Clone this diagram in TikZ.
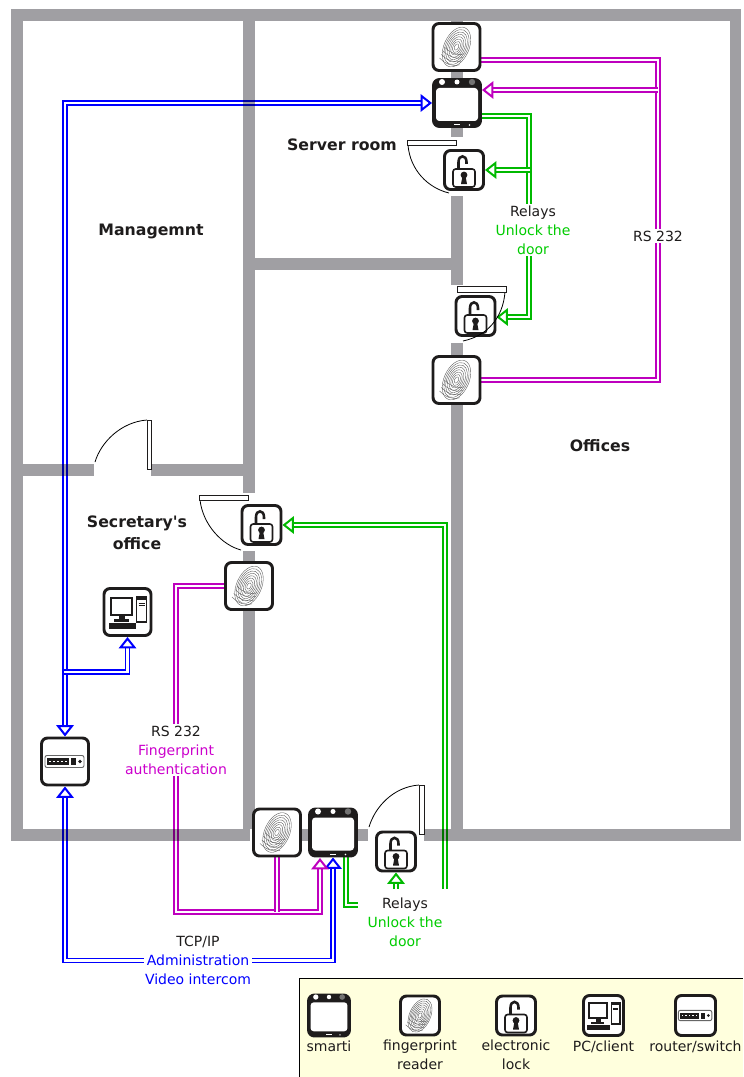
\documentclass[tikz,border=0pt]{standalone}
\usepackage{fontspec}
\setmainfont[Ligatures=TeXOff]{DejaVu Sans}
\definecolor{WallGray}{RGB}{160,159,163}
\definecolor{IconDark}{RGB}{30,28,28}
\definecolor{NetBlue}{RGB}{0,0,255}
\definecolor{RsPurple}{RGB}{190,0,190}
\definecolor{RelayGreen}{RGB}{0,185,0}
\definecolor{RsText}{RGB}{204,0,204}
\definecolor{RelayText}{RGB}{0,204,0}
\definecolor{LegendFill}{RGB}{255,255,221}
\usetikzlibrary{calc, positioning, arrows.meta}
\pgfdeclarelayer{under}
\pgfsetlayers{under,main}
\tikzset{
    opentri/.tip={Triangle[length=8.5pt, width=13pt, line width=1.5pt, fill=white]},
    devbox/.style={
        draw=IconDark, line width=2.2pt, rounded corners=4.5pt, fill=white,
        minimum size={(#1-3)*0.75pt}, inner sep=0pt
    },
    smartibox/.style={devbox=#1, fill=IconDark},
    wire/.style={
        draw=#1, double=white, double distance=1.6pt, line width=1.3pt
    },
    wall/.style={fill=WallGray},
    door/.style={draw=black, line width=0.6pt},
    doorleaf/.style={draw=IconDark, fill=white, line width=0.7pt},
    plain/.style={font=\fontsize{10.5}{14.25}\selectfont, align=center, inner sep=1pt, text=IconDark},
    wirelabel/.style={plain, fill=white},
    room/.style={plain, font=\fontsize{11.8}{16.5}\selectfont\bfseries},
    ridge/.style={draw=black!65, line width=0.28pt},
    pics/smartiicon/.style={code={
        \fill[white, rounded corners=2.5pt] (-21,-15) rectangle (21,18);
        \fill[white] (-15,-21) circle (3);
        \fill[white] (0,-21) circle (2.5);
        \fill[black!55] (15,-21) circle (3.2);
        \fill[white] (-3,21.5) rectangle (3,22.5);
        \fill[white] (12.5,22) circle (0.8);
    }},
    pics/fpicon/.style={code={
        \begin{scope}[rotate=-24]
            \foreach \r in {1,0.88,0.76,0.64,0.52,0.40,0.28,0.16}
                \draw[ridge] (0,0) ellipse ({12.5*\r} and {21*\r});
            \foreach \r in {5,9,13,17}
                \draw[ridge] (-11,\r) .. controls (-4,{\r+3}) and (4,{\r+3}) .. (10,{\r-2});
        \end{scope}
    }},
    pics/lockicon/.style={code={
        \draw[IconDark, line width=1.9pt] (-5.5,0) -- (-5.5,-8) .. controls (-5.5,-15.5) and (2.5,-15.5) .. (2.5,-8) -- (2.5,-6);
        \draw[IconDark, fill=white, line width=1.2pt, rounded corners=2pt] (-11,-1) rectangle (11,17);
        \fill[IconDark] (0,5) circle (3.4);
        \fill[IconDark] (-1.5,6) -- (1.5,6) -- (3,14) -- (-3,14) -- cycle;
    }},
    pics/pcicon/.style={code={
        \draw[IconDark, line width=1.5pt] (-17,-14) rectangle (4,3);
        \fill[IconDark] (-9,3) rectangle (-3,7);
        \fill[IconDark] (-14,7) rectangle (1,10);
        \fill[IconDark] (-19,11) rectangle (8,17);
        \draw[IconDark, line width=1.1pt] (9,-15) rectangle (19,10);
        \fill[IconDark] (9,-15) rectangle (19,-12);
        \draw[IconDark, line width=0.4pt] (11,-9) -- (17,-9) (11,-7) -- (17,-7);
    }},
    pics/routericon/.style={code={
        \draw[black!60, fill=white, line width=0.7pt, rounded corners=1.5pt] (-20,-6) rectangle (19,6);
        \fill[IconDark] (-18,-3.5) rectangle (4,3.5);
        \foreach \p in {-15,-11,-7,-3,1}
            \fill[white] (\p-1,-1) rectangle (\p+1,0.5);
        \fill[IconDark] (6,-3.5) rectangle (11,3.5);
        \fill[IconDark] (15,0) circle (1.8);
    }}
}
\begin{document}
\begin{tikzpicture}[x=0.75pt, y=-0.75pt]
\useasboundingbox (0,0) rectangle (743,1077);

% devices in the rooms
\node[devbox=50] (fpA) at (456.5,47) {};
\node[smartibox=50] (smartiA) at (457,103) {};
\node[devbox=42] (lockA) at (464,170) {};
\node[devbox=42] (lockB) at (475.5,316) {};
\node[devbox=50] (fpB) at (456.5,380) {};
\node[devbox=42] (lockC) at (261.5,525) {};
\node[devbox=50] (fpC) at (249,586) {};
\node[devbox=50] (pc) at (127.5,612) {};
\node[devbox=50] (router) at (65,761.5) {};
\node[devbox=50] (fpD) at (277,832.5) {};
\node[smartibox=50] (smartiB) at (333,832.5) {};
\node[devbox=42] (lockD) at (396,851.5) {};

\foreach \n in {fpA,fpB,fpC,fpD} \pic at (\n) {fpicon};
\foreach \n in {smartiA,smartiB} \pic at (\n) {smartiicon};
\foreach \n in {lockA,lockB,lockC,lockD} \pic at (\n) {lockicon};
\pic at (pc) {pcicon};
\pic at (router) {routericon};

% texts
\node[room] (management) at (151,231) {Managemnt};
\node[room] (serverroom) at (342,145) {Server room};
\node[room] (offices) at (600,446) {Offices};
\node[room] (secretary) at (137,533) {Secretary's\\office};
\node[wirelabel] (relaysTop) at (533,230) {Relays\\\textcolor{RelayText}{Unlock the}\\\textcolor{RelayText}{door}};
\node[wirelabel] (rsRight) at (658,236) {RS 232};
\node[wirelabel] (rsLeft) at (176,750) {RS 232\\\textcolor{RsText}{Fingerprint}\\\textcolor{RsText}{authentication}};
\node[wirelabel] (tcpLabel) at (198,960.5) {TCP/IP\\\textcolor{NetBlue}{Administration}\\\textcolor{NetBlue}{Video intercom}};
\node[plain] (relaysLow) at (405,922) {Relays\\\textcolor{RelayText}{Unlock the}\\\textcolor{RelayText}{door}};

% doors
\draw[door] (408,145) .. controls (410,170) and (428,188) .. (449,193);
\draw[doorleaf] (407,140) rectangle (456,145);
\draw[door] (505,292) .. controls (503,318) and (487,336) .. (463,341);
\draw[doorleaf] (457,286) rectangle (506,292);
\draw[door] (200,500) .. controls (203,525) and (222,545) .. (241,550);
\draw[doorleaf] (199,495) rectangle (248,500);
\draw[door] (147,420) .. controls (121,422) and (101,442) .. (95,462);
\draw[doorleaf] (147,420) rectangle (151,469);
\draw[door] (419,785) .. controls (393,787) and (375,807) .. (369,827);
\draw[doorleaf] (419,785) rectangle (424,834);

% legend
\fill[LegendFill] (299,978) rectangle (743,1077);
\coordinate (legendLow) at (299,1077);
\coordinate (legendEnd) at (743,978);
\draw[line width=0.6pt] (legendLow) |- (legendEnd);
\node[smartibox=44] (keySmarti) at (329,1015.5) {};
\node[devbox=42] (keyFp) at (420,1015.5) {};
\node[devbox=42] (keyLock) at (516,1015.5) {};
\node[devbox=43] (keyPc) at (603.5,1015.5) {};
\node[devbox=43] (keyRouter) at (695.5,1015.5) {};
\pic[scale=0.88] at (keySmarti) {smartiicon};
\pic[scale=0.84] at (keyFp) {fpicon};
\pic at (keyLock) {lockicon};
\pic[scale=0.86] at (keyPc) {pcicon};
\pic[scale=0.86] at (keyRouter) {routericon};
\node[plain, below=1.5pt of keySmarti] (nameSmarti) {smarti};
\node[plain, below=1.5pt of keyFp] (nameFp) {fingerprint\\reader};
\node[plain, below=1.5pt of keyLock] (nameLock) {electronic\\lock};
\node[plain, below=1.5pt of keyPc] (namePc) {PC/client};
\node[plain, below=1.5pt of keyRouter] (nameRouter) {router/switch};

% connectors and walls go below the devices
\coordinate (netTap) at (64,672);
\coordinate (rsTop) at (658,60);
\coordinate (rsIn) at (658,90);
\coordinate (rsLow) at (658,380);
\coordinate (relayTop) at (529,116);
\coordinate (relayTap) at (530,170);
\coordinate (relayBot) at (529,317);
\coordinate (rsBus) at (176,912);
\coordinate (rsEnd) at (320,858);
\coordinate (relayOut) at (346,905);
\coordinate (relayStub) at (358,905);
\coordinate (relayFar) at (445,889);
\coordinate (relayUp) at (396,889);

\begin{pgfonlayer}{under}
\draw[wire=NetBlue, opentri-opentri] (router.north) |- (smartiA.west);
\draw[wire=NetBlue, -opentri] (netTap) -| (pc.south);
\draw[wire=NetBlue, opentri-opentri] (router.south) |- (tcpLabel.center) -| (smartiB.south);

\draw[wire=RsPurple] (fpA.east |- rsTop) -- (rsTop) -- (rsLow) -- (fpB.east);
\draw[wire=RsPurple, -opentri] (rsIn) -- (smartiA.east |- rsIn);
\draw[wire=RsPurple, -opentri] (fpC.west) -| (rsBus) -| (rsEnd);
\draw[wire=RsPurple] (fpD.south) -- (fpD.south |- rsBus);

\draw[wire=RelayGreen, -opentri] (smartiA.east |- relayTop) -- (relayTop) -- (relayBot) -- (lockB.east |- relayBot);
\draw[wire=RelayGreen, -opentri] (relayTap) -- (lockA.east |- relayTap);
\draw[wire=RelayGreen] (smartiB.south -| relayOut) -- (relayOut) -- (relayStub);
\draw[wire=RelayGreen, -opentri] (relayFar) |- (lockC.east);
\draw[wire=RelayGreen, -opentri] (relayUp) -- (lockD.south);

\begin{scope}[blend mode=multiply]
\fill[wall] (11,9) rectangle (741,21);
\fill[wall] (11,21) rectangle (23,829);
\fill[wall] (730,21) rectangle (741,829);
\fill[wall] (11,829) rectangle (250,841);
\fill[wall] (300,829) rectangle (368,841);
\fill[wall] (424,829) rectangle (741,841);
\fill[wall] (243,21) rectangle (255,493);
\fill[wall] (243,551) rectangle (255,829);
\fill[wall] (451,21) rectangle (463,137);
\fill[wall] (451,196) rectangle (463,285);
\fill[wall] (451,343) rectangle (463,829);
\fill[wall] (255,258) rectangle (451,270);
\fill[wall] (23,464) rectangle (94,476);
\fill[wall] (151,464) rectangle (243,476);
\end{scope}
\end{pgfonlayer}

\end{tikzpicture}
\end{document}
